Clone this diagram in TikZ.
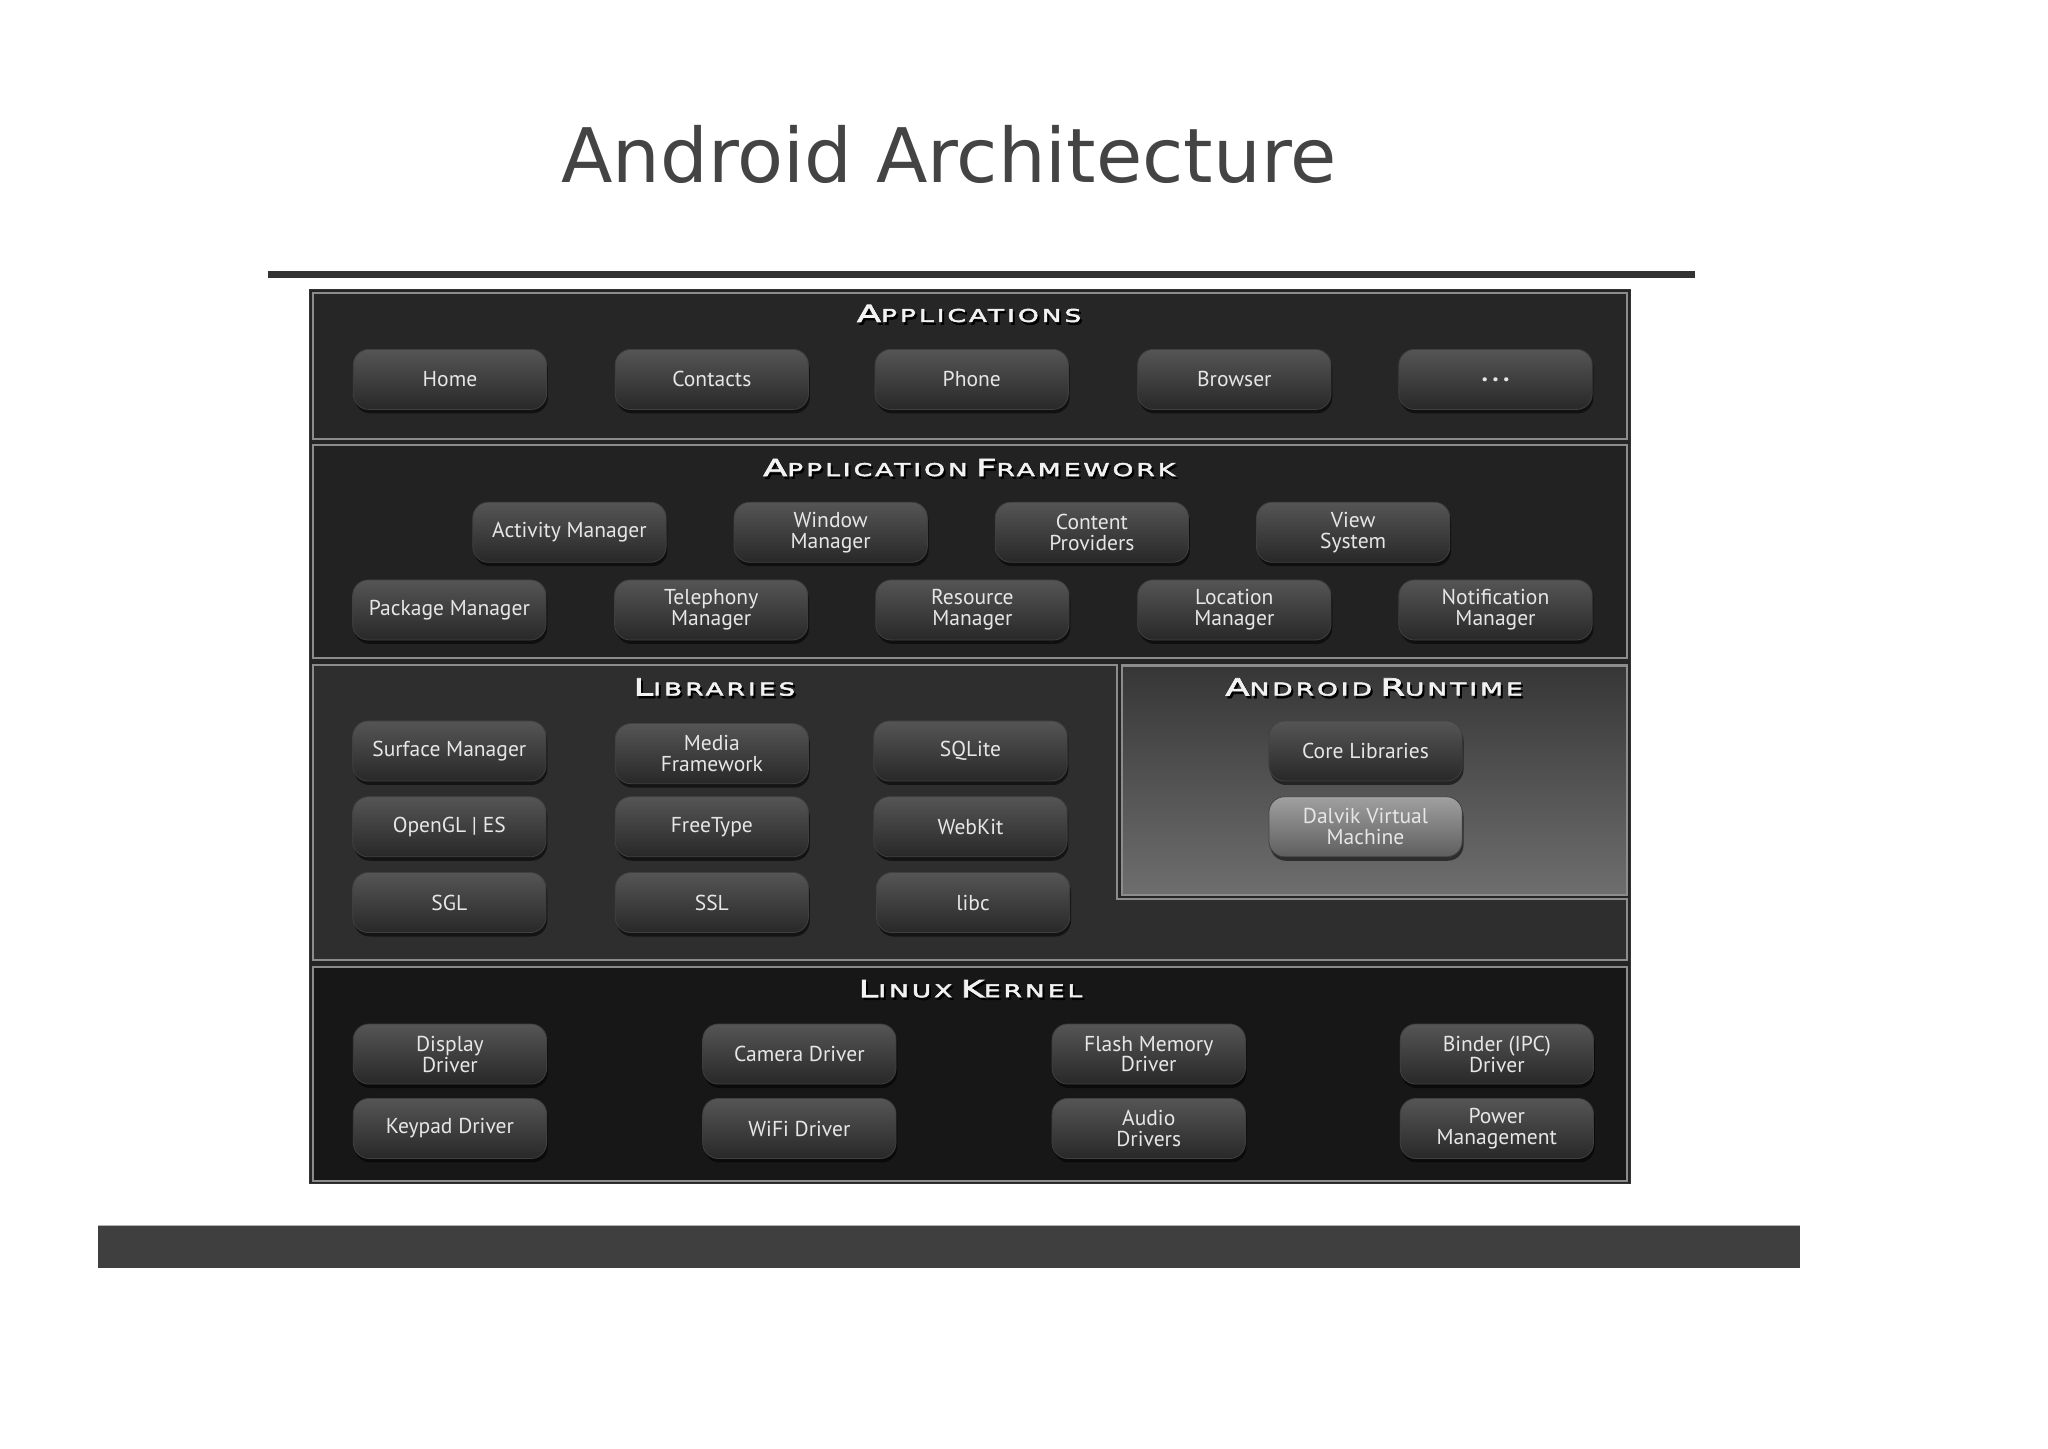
\documentclass[tikz,border=0pt]{standalone}
\usepackage{fontspec}
\setmainfont{PT Sans}
\newfontfamily\titlefont{DejaVu Sans}
\newfontfamily\hdrfont[LetterSpace=17, FakeStretch=1.5, FakeBold=3]{DejaVu Sans}
\usetikzlibrary{shadows}
\definecolor{titlegray}{HTML}{444444}
\definecolor{rulegray}{HTML}{333333}
\definecolor{bargray}{HTML}{3F3F3F}
\definecolor{outerbg}{HTML}{252525}
\definecolor{panelborder}{HTML}{8C8C8C}
\definecolor{appbg}{HTML}{262626}
\definecolor{fwbg}{HTML}{222222}
\definecolor{libbg}{HTML}{2E2E2E}
\definecolor{rttop}{HTML}{363636}
\definecolor{rtbot}{HTML}{6E6E6E}
\definecolor{kernbg}{HTML}{171717}
\definecolor{boxtop}{HTML}{555555}
\definecolor{boxbot}{HTML}{282828}
\definecolor{dvtop}{HTML}{A0A0A0}
\definecolor{dvbot}{HTML}{5E5E5E}
\definecolor{boxtext}{HTML}{E6E6E6}
\definecolor{hdrtext}{HTML}{F2F2F2}
\newcommand\FakeSC[2]{{\fontsize{18}{18}\selectfont #1}{\fontsize{13.5}{13.5}\selectfont #2}}
\newcommand\HdrShd[1]{\makebox[0pt][l]{\raisebox{-2pt}{\kern1.5pt\color{black}#1}}#1}
\begin{document}
\begin{tikzpicture}[x=1pt,y=-1pt,
  panel/.style={draw=panelborder, line width=1.6pt},
  hdr/.style={text=hdrtext, font=\hdrfont, inner sep=0pt},
  bx/.style={rounded corners=12pt, minimum width=148pt, minimum height=46pt,
    top color=boxtop, bottom color=boxbot, draw=black!75, line width=0.6pt,
    text=boxtext, align=center, inner sep=1pt, font=\fontsize{16.5}{16}\selectfont,
    drop shadow={shadow xshift=1pt, shadow yshift=-3pt, opacity=0.55, fill=black}},
  dvbx/.style={bx, top color=dvtop, bottom color=dvbot}]
\useasboundingbox[fill=white] (0,0) rectangle (1568,1109);

% title and rules
\node[font=\titlefont\fontsize{57.6}{60}\selectfont, text=titlegray, anchor=base] (title) at (726.5,140) {Android Architecture};
\draw[rulegray, line width=5pt] (205,210) -- (1298,210);
\fill[bargray] (75,938) rectangle (1378,971);
\draw[gray!60, line width=0.8pt] (75,938) -- (1378,938);

% outer frame
\fill[outerbg] (237,222) rectangle (1248,906);
\draw[black!80, line width=0.8pt] (237,222) rectangle (1248,906);

% panels
\draw[panel, fill=appbg] (239.5,224.5) rectangle (1245.5,336);
\draw[panel, fill=fwbg] (239.5,341) rectangle (1245.5,504);
\draw[panel, fill=libbg] (239.5,509) -- (855,509) -- (855,688) -- (1245.5,688) -- (1245.5,735) -- (239.5,735) -- cycle;
\shade[top color=rttop, bottom color=rtbot] (859,509.5) rectangle (1245.5,685.5);
\draw[panel] (859,509.5) rectangle (1245.5,685.5);
\draw[panel, fill=kernbg] (239.5,740) rectangle (1245.5,904);

% headers
\node[hdr] (hApp) at (742,241) {\HdrShd{\FakeSC{A}{PPLICATIONS}}};
\node[hdr] (hFw) at (742,359) {\HdrShd{\FakeSC{A}{PPLICATION} \FakeSC{F}{RAMEWORK}}};
\node[hdr] (hLib) at (547,527) {\HdrShd{\FakeSC{L}{IBRARIES}}};
\node[hdr] (hRt) at (1052,527) {\HdrShd{\FakeSC{A}{NDROID} \FakeSC{R}{UNTIME}}};
\node[hdr] (hKer) at (743,758) {\HdrShd{\FakeSC{L}{INUX} \FakeSC{K}{ERNEL}}};

% applications
\node[bx] (home) at (344.5,290.5) {Home};
\node[bx] (contacts) at (545,290.5) {Contacts};
\node[bx] (phone) at (744,290.5) {Phone};
\node[bx] (browser) at (945,290.5) {Browser};
\node[bx, font=\bfseries\fontsize{20}{20}\selectfont] (dots) at (1145,290.5) {\raisebox{-3pt}{.\,.\,.}};

% application framework
\node[bx] (actmgr) at (436,407.5) {Activity Manager};
\node[bx] (winmgr) at (636,407.5) {Window\\Manager};
\node[bx] (content) at (836,407.5) {Content\\Providers};
\node[bx] (view) at (1036,407.5) {View\\System};
\node[bx] (pkgmgr) at (344,467) {Package Manager};
\node[bx] (telmgr) at (544.5,467) {Telephony\\Manager};
\node[bx] (resmgr) at (744.5,467) {Resource\\Manager};
\node[bx] (locmgr) at (945,467) {Location\\Manager};
\node[bx] (notmgr) at (1145,467) {Notification\\Manager};

% libraries
\node[bx] (surface) at (344,575) {Surface Manager};
\node[bx] (media) at (545,577) {Media\\Framework};
\node[bx] (sqlite) at (743,575) {SQLite};
\node[bx] (opengl) at (344,633) {OpenGL | ES};
\node[bx] (freetype) at (545,633) {FreeType};
\node[bx] (webkit) at (743,633) {WebKit};
\node[bx] (sgl) at (344,691) {SGL};
\node[bx] (ssl) at (545,691) {SSL};
\node[bx] (libc) at (745,691) {libc};

% android runtime
\node[bx] (corelib) at (1045.5,575) {Core Libraries};
\node[dvbx] (dalvik) at (1045.5,633) {Dalvik Virtual\\Machine};

% linux kernel
\node[bx] (display) at (344.5,807) {Display\\Driver};
\node[bx] (camera) at (612,807) {Camera Driver};
\node[bx] (flash) at (879.5,807) {Flash Memory\\Driver};
\node[bx] (binder) at (1146,807) {Binder (IPC)\\Driver};
\node[bx] (keypad) at (344.5,864) {Keypad Driver};
\node[bx] (wifi) at (612,864) {WiFi Driver};
\node[bx] (audio) at (879.5,864) {Audio\\Drivers};
\node[bx] (power) at (1146,864) {Power\\Management};
\end{tikzpicture}
\end{document}
